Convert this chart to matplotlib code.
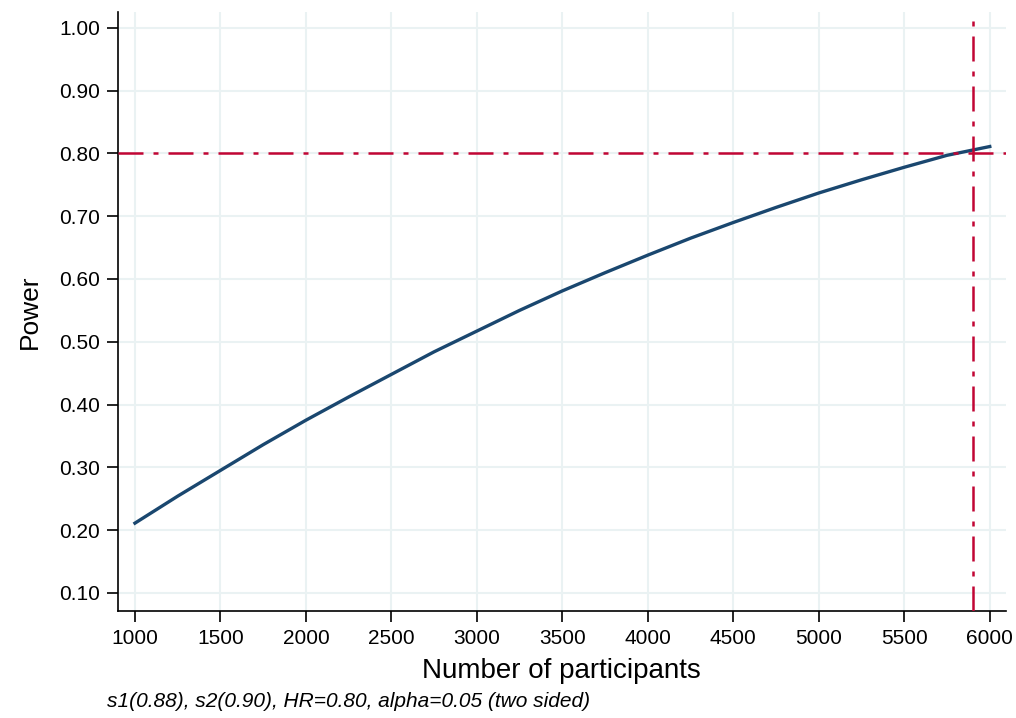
import matplotlib
matplotlib.use("Agg")
import matplotlib.pyplot as plt

# Power
n_participants = [1000, 1250, 1500, 1750, 2000, 2250, 2500, 2750, 3000, 3250, 3500,
                  3750, 4000, 4250, 4500, 4750, 5000, 5250, 5500, 5750, 6000]
power = [0.211, 0.254, 0.295, 0.336, 0.375, 0.412, 0.448, 0.484, 0.517, 0.550, 0.581,
         0.610, 0.638, 0.665, 0.690, 0.714, 0.737, 0.758, 0.778, 0.797, 0.811]
x_ticks = [1000, 1500, 2000, 2500, 3000, 3500, 4000, 4500, 5000, 5500, 6000]
y_ticks = [0.10, 0.20, 0.30, 0.40, 0.50, 0.60, 0.70, 0.80, 0.90, 1.00]
target_power = 0.80
target_n = 5900
note = "s1(0.88), s2(0.90), HR=0.80, alpha=0.05 (two sided)"

plt.rcParams['font.family'] = ['Liberation Sans', 'DejaVu Sans']

fig = plt.figure(figsize=(10.16, 7.18), dpi=100)
ax = fig.add_axes([0.116, 0.149, 0.874, 0.834])

ax.plot(n_participants, power, color='#1a476f', lw=2.4, zorder=3)
ax.axhline(target_power, color='#c10534', lw=1.8, dashes=(10, 4, 2, 4), zorder=4)
ax.axvline(target_n, color='#c10534', lw=1.8, dashes=(10, 4, 2, 4), zorder=4)

ax.set_xlim(900, 6094)
ax.set_ylim(0.071, 1.025)
ax.set_xticks(x_ticks)
ax.set_yticks(y_ticks)
ax.set_yticklabels([f"{v:.2f}" for v in y_ticks])
ax.grid(True, color='#eaf2f3', lw=1.5)
ax.set_axisbelow(True)

for side in ['top', 'right']:
    ax.spines[side].set_visible(False)
for side in ['left', 'bottom']:
    ax.spines[side].set_linewidth(1.2)
ax.tick_params(direction='out', length=8, width=1.2, labelsize=15, pad=5)

ax.set_xlabel("Number of participants", fontsize=20, labelpad=7)
ax.set_ylabel("Power", fontsize=19, labelpad=12)
fig.text(0.105, 0.01, note, fontsize=15, style='italic', ha='left', va='bottom')

fig.savefig("out.png", dpi=100)
